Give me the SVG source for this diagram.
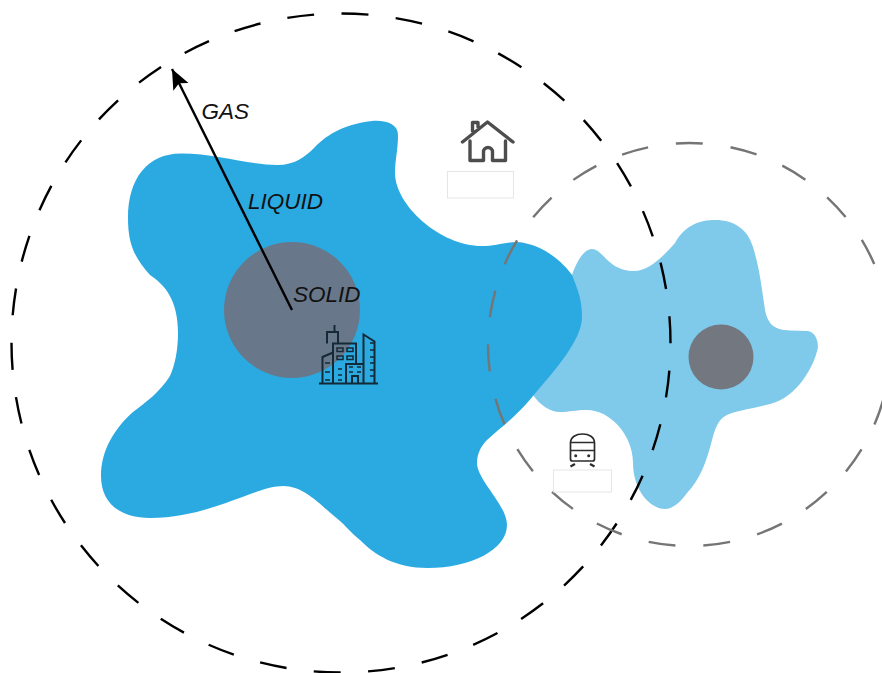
<svg xmlns="http://www.w3.org/2000/svg" width="882" height="673" viewBox="0 0 882 673">
<style>
.ring{fill:none;stroke-width:2.4}
.lbl{font-family:"Liberation Sans",Arial,sans-serif;font-style:italic;font-size:22.5px;fill:#111}
.box{fill:#fff;stroke:#e6e6e6;stroke-width:1}
.bl{fill:none;stroke:#142a36;stroke-width:2}
.bw{fill:none;stroke:#142a36;stroke-width:1.5}
.hs{fill:none;stroke:#4d4d4d;stroke-width:3.4;stroke-linecap:round;stroke-linejoin:round}
.tr{fill:none;stroke:#2b2b2b;stroke-width:1.7;stroke-linejoin:round}
</style>
<defs>
<marker id="ah" markerUnits="userSpaceOnUse" markerWidth="24" markerHeight="20" refX="20" refY="8.500" orient="auto"><path d="M0 0L20 8.500L0 17L4 8.500Z" fill="#000"/></marker>
</defs>
<rect width="882" height="673" fill="#fff"/>
<g id="zone-light">
<path fill="#7FC9EA" d="M572 275C578 258 585 249 592 249C603 249 608 271 634 271C648 271 662 258 675 243C685 225 700 220 715 220C735 220 748 230 753 247C760 270 762 290 765 310C768 325 775 330 790 330.500L808 331C815 332 818 340 818 347C815 365 797 398 770 404C750 409 735 411 727 415C717 420 715 430 712 440C707 460 700 480 687 493C680 503 672 509 665 509C650 509 633 490 633 463C633 435 610 410 587 410C575 410 570 412 560 412C550 412 540 405 533 395L560 300Z"/>
<circle id="core-light" cx="721" cy="357" r="32.500" fill="#737880"/>
</g>
<g id="zone-main">
<path fill="#2BA9E1" d="M128 218C128 178 148 153 182 153.500C215 153.500 250 165 277 165C295 165 305 157 315 147C325 137 340 125 372 121C388 120 398 125 398 135C398 150 395 160 395 173C395 205 440 246 482 246C495 246 505 242 517 242C545 244 565 265 572 275C578 290 582 300 582 317C582 340 555 370 533 396C515 418 500 428 487 440C480 447 477 455 477 463C477 480 507 505 507 525C507 550 470 568 428 568C395 568 375 555 360 540C350 532 345 525 340 521C320 505 305 486 283 486C255 486 210 518 150 518C120 518 101 503 101 476C101 450 115 428 133 412C145 403 160 392 170 376C175 365 178 350 178 333C178 300 165 285 150 275C135 258 128 245 128 218Z"/>
<circle id="core-main" cx="292" cy="310" r="68" fill="#68788A"/>
</g>
<g id="connectors">
<circle class="ring" r="329.500" transform="translate(341 343) scale(-1 1)" stroke="#000" stroke-dasharray="27 27.450"/>
<circle class="ring" r="201.500" transform="translate(689.500 344.500) scale(-1 1)" stroke="#757575" stroke-dasharray="27 28.050"/>
<line x1="292" y1="310" x2="172" y2="69" stroke="#000" stroke-width="2.400" marker-end="url(#ah)"/>
</g>
<g id="label-gas"><text class="lbl" x="201.500" y="119">GAS</text></g>
<g id="label-liquid"><text class="lbl" x="248" y="209">LIQUID</text></g>
<g id="label-solid"><text class="lbl" x="293" y="302">SOLID</text></g>
<g id="city">
<path class="bl" d="M319 383.500H378M322.500 383V357L333 352.500M333 383V343.500H356V364M327 343.500V332H338V343.500M334.500 332V325M346 383V364H363.500M363.500 383V334.500L374.500 341.500V383M352 383V376H358V383"/>
<path class="bw" d="M337 348h6v3.500h-6zM347 348h6v3.500h-6zM337 356h6v3.500h-6zM347 356h6v3.500h-6zM325 363h5M325 372h5M325 380h5M338 369h4M338 375h4M338 380h4M349 367h4M357 367h4M349 372h4M357 372h4M370 343h4M370 350h4M370 357h4M370 363h4M370 370h4M370 376h4"/>
</g>
<g id="house">
<path class="hs" d="M462.500 142L487.500 122L513 142M472.500 131V122.500H478V127M470 141V160.500H483.500V152A4.500 4.500 0 0 1 492.500 152V160.500H505.500V141"/>
<rect class="box" x="447.500" y="171.500" width="66" height="26.500"/>
</g>
<g id="train">
<path class="tr" d="M570.500 443C570.500 437 576 434 582.500 434C589 434 594.500 437 594.500 443V459Q594.500 461 592.500 461H572.500Q570.500 461 570.500 459ZM570.500 442.500H594.500M570.500 450.500H594.500"/>
<path d="M570.500 466.500L575 464M594.500 466.500L590 464" stroke="#2b2b2b" stroke-width="2.200" fill="none"/>
<circle cx="575.700" cy="455.700" r="1.500" fill="#2b2b2b"/><circle cx="588.700" cy="455.700" r="1.500" fill="#2b2b2b"/>
<rect class="box" x="553.500" y="470" width="58" height="22"/>
</g>
</svg>
